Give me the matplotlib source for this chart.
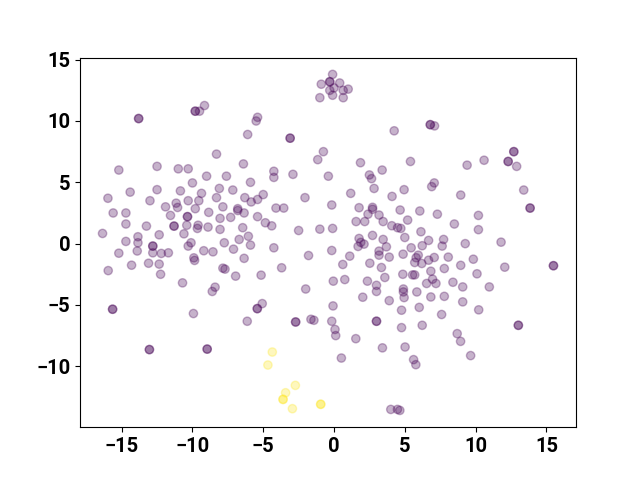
import numpy as np
import matplotlib
matplotlib.use("Agg")
import matplotlib.pyplot as plt

# Embedding coordinates, class 0 (purple); repeated entries are overlapping points
x0 = [-9.15, -9.8, -9.8, -9.5, -13.8, -13.8, -15.2, -12.5, -11.0, -10.3, -9.0, -10.0,
      -0.1, -0.9, -0.3, -0.3, 0.4, 0.0, -0.3, 0.65, 1.0, -0.1, 0.65, -1.0,
      -5.4, -5.5, -6.1, -3.1, -3.1, -8.3, -0.75, -1.15, -6.4, -7.6, -4.25, -4.25,
      -2.9, -0.4, -5.9, 6.8, 6.8, 7.1, 4.25, 1.87, 5.4, 3.4, 2.5, 2.65, 7.08, 6.9,
      12.7, 12.7, 12.3, 12.3, 12.9, 10.6, 9.4,
      -14.4, -12.5, -10.85, -9.36, -15.97, -13.0, -10.3, -9.55, -11.15, -11.05,
      -11.9, -9.8, -8.85, -15.6, -14.7, -11.55, -10.35, -10.35, -14.7, -13.25,
      -11.3, -11.3, -10.4, -9.6, -9.65, -8.9, -16.35, -12.35, -10.6, -13.85,
      -14.7, -13.85, -10.1, -10.3, -12.8, -12.8, -15.2, -13.9, -12.8, -12.2,
      -11.7, -9.2, -9.9, -9.85, -14.3, -13.1, -12.35, -15.95, -12.25, -10.7,
      -8.1, -7.15, -8.3, -6.3, -5.85, -5.4, -5.0, -2.05, -0.16, -7.85, -6.8,
      -6.8, -6.35, -4.1, -3.55, -8.05, -7.3, -5.4, -4.85, -4.4, -8.05, -6.45,
      -2.5, -1.0, -0.1, -6.05, -6.7, -7.75, -5.9, -7.1, -8.55, -4.25, -0.16,
      -1.8, -6.35, -7.85, -7.7, -3.7, -6.95, -5.15, -8.4, -8.6, -2.0, -0.05,
      8.95, 1.18, 2.83, 4.95, 4.1, 1.77, 2.72, 2.72, 4.67, 6.06, 7.3, 2.4, 3.18,
      1.56, 2.17, 3.47, 5.2, 8.5, 4.08, 4.49, 4.72, 6.14, 5.0, 2.72, 1.77, 1.89,
      2.12, 1.7, 3.47, 3.7, 6.68, 7.74, 7.64, 6.23, 5.45, 3.18, 3.18, 3.9, 4.88,
      5.95, 5.8, 5.7, 6.2, 6.68, 7.08, 8.07, 8.95, 1.11, 0.62, 2.53, 3.35, 7.79,
      5.55, 5.7, 4.86, 6.84, 6.96, 0.76, 2.36, 3.59, 3.0, 3.0, 4.9, 4.9, 4.95,
      5.85, 6.54, 7.2, 8.4, 2.03, 3.9, 6.84, 7.79,
      13.4, 13.85, 13.85, 10.2, 10.2, 9.27, 11.8, 9.84, 12.06, 15.5, 15.5, 10.1,
      9.09, 10.97, 9.09,
      -15.64, -15.64, -9.93, -13.04, -13.04, -8.96, -8.96, -5.07, -5.42, -5.42,
      -6.13, -2.71, -2.71, -1.63, -1.42, -0.16, -0.07, 0.07, 0.12, 4.77, 6.02,
      7.6, 3.0, 3.0, 1.54, 4.77, 6.23, 8.7, 3.42, 5.02, 0.52, 5.62, 5.78, 4.01,
      4.48, 4.65, 10.22, 13.02, 13.02, 8.94, 9.65]
y0 = [11.26, 10.8, 10.8, 10.8, 10.2, 10.2, 6.0, 6.3, 6.1, 6.1, 5.5, 4.95,
      13.8, 13.0, 13.2, 13.2, 13.1, 12.7, 12.5, 12.5, 12.6, 12.1, 11.9, 11.9,
      10.3, 10.0, 8.9, 8.6, 8.6, 7.3, 7.5, 6.85, 6.5, 5.5, 5.9, 5.4,
      5.65, 5.5, 5.0, 9.7, 9.7, 9.6, 9.2, 6.6, 6.7, 6.0, 5.6, 5.3, 4.95, 4.65,
      7.5, 7.5, 6.7, 6.7, 6.3, 6.8, 6.4,
      4.2, 4.4, 4.3, 4.1, 3.7, 3.5, 3.5, 3.5, 3.3, 2.95,
      3.0, 2.85, 2.55, 2.5, 2.5, 2.3, 2.2, 2.2, 1.6, 1.43,
      1.43, 1.43, 1.5, 1.5, 1.24, 1.35, 0.83, 0.72, 0.8, 0.56,
      0.18, 0.07, 0.07, -0.2, -0.2, -0.2, -0.78, -0.6, -0.75, -0.8,
      -0.75, -0.58, -1.16, -1.37, -1.76, -1.6, -1.67, -2.2, -2.5, -3.2,
      4.5, 4.37, 3.75, 3.75, 3.4, 3.6, 4.0, 3.75, 3.15, 3.0, 2.85,
      2.7, 2.5, 2.9, 2.9, 2.06, 2.14, 2.2, 1.7, 1.45, 1.16, 1.3,
      1.07, 1.18, 1.24, 0.6, 0.34, 0.07, -0.12, -0.45, -0.67, -0.34, -0.56,
      -0.97, -1.2, -2.0, -2.08, -1.97, -2.65, -2.57, -3.55, -3.9, -3.7, -3.06,
      3.96, 4.1, 4.5, 4.4, 3.85, 2.93, 2.96, 2.8, 2.74, 2.66, 2.4, 2.4, 2.33,
      1.8, 1.8, 1.8, 1.92, 1.6, 1.46, 1.3, 1.24, 0.97, 0.5, 0.67, 0.42, 0.1,
      -0.04, -0.23, 0.34, -0.26, 0.26, 0.34, -0.2, -0.17, -0.34, -0.61, -0.94, -1.1, -0.86,
      -0.94, -1.15, -1.54, -1.62, -1.35, -1.13, -1.1, -1.77, -1.02, -1.7, -1.6, -1.95, -2.03,
      -2.55, -2.55, -2.5, -2.25, -2.9, -2.93, -3.06, -2.76, -3.4, -3.9, -3.7, -3.94, -4.4,
      -3.94, -3.25, -3.25, -3.15, -4.37, -4.65, -4.35, -4.3,
      4.37, 2.9, 2.9, 2.3, 1.14, 0.0, 0.12, -1.27, -1.92, -1.8, -1.8, -2.46,
      -3.53, -3.53, -4.75,
      -5.35, -5.35, -5.7, -8.64, -8.64, -8.6, -8.6, -4.89, -5.3, -5.3,
      -6.33, -6.39, -6.39, -6.17, -6.25, -6.33, -5.08, -7.0, -7.5, -5.43, -5.2,
      -5.78, -6.33, -6.33, -7.75, -6.85, -6.66, -7.34, -8.5, -8.43, -9.33, -9.46, -9.87, -13.52,
      -13.52, -13.6, -5.4, -6.66, -6.66, -7.97, -9.13]

# Class 1 (yellow)
x1 = [-4.36, -4.67, -2.73, -3.42, -3.6, -3.6, -2.94, -0.94, -0.94]
y1 = [-8.84, -9.9, -11.56, -12.16, -12.7, -12.7, -13.46, -13.1, -13.1]

x = np.array(x0 + x1)
y = np.array(y0 + y1)
labels = np.array([0] * len(x0) + [1] * len(x1))

plt.rcParams['font.family'] = ['Roboto', 'DejaVu Sans']

fig, ax = plt.subplots(figsize=(6.4, 4.8), dpi=100)
ax.scatter(x, y, c=labels, cmap='viridis', alpha=0.3)

for lbl in ax.get_xticklabels() + ax.get_yticklabels():
    lbl.set_fontsize(14.5)
    lbl.set_fontweight('bold')

plt.savefig("out.png", dpi=100)
